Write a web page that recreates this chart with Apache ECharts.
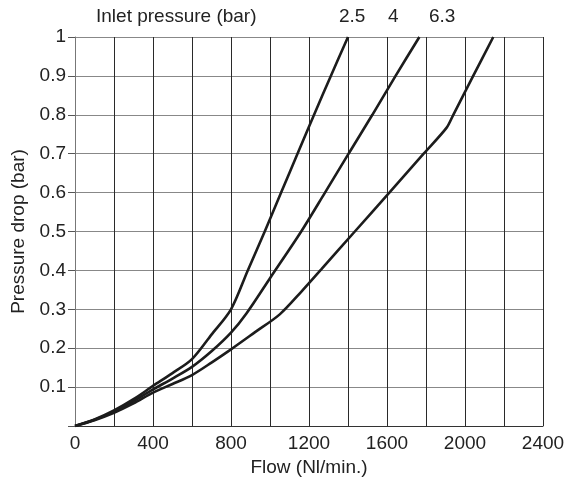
<!DOCTYPE html>
<html>
<head>
<meta charset="utf-8">
<script src="https://cdn.jsdelivr.net/npm/echarts@6/dist/echarts.min.js"></script>
<style>
html,body{margin:0;padding:0;background:#fff;}
#c{width:582px;height:479px;}
</style>
</head>
<body>
<div id="c"></div>
<script>
// Inlet pressure 2.5 bar
var flow25 = [0, 100, 200, 300, 400, 500, 600, 700, 800, 886, 973, 1057, 1141, 1226, 1312, 1400];
var drop25 = [0, 0.017, 0.04, 0.069, 0.103, 0.136, 0.172, 0.235, 0.30, 0.40, 0.50, 0.60, 0.70, 0.80, 0.90, 1.0];
// Inlet pressure 4 bar
var flow4 = [0, 100, 200, 300, 400, 500, 600, 700, 800, 880, 1000, 1160, 1282, 1403, 1525, 1644, 1766];
var drop4 = [0, 0.016, 0.037, 0.064, 0.094, 0.122, 0.152, 0.192, 0.24, 0.29, 0.38, 0.50, 0.60, 0.70, 0.80, 0.90, 1.0];
// Inlet pressure 6.3 bar
var flow63 = [0, 100, 200, 300, 400, 500, 600, 700, 800, 920, 1050, 1160, 1265, 1435, 1612, 1788, 1906, 1940, 2042, 2145];
var drop63 = [0, 0.015, 0.034, 0.058, 0.086, 0.108, 0.131, 0.163, 0.197, 0.24, 0.287, 0.345, 0.404, 0.50, 0.60, 0.70, 0.767, 0.80, 0.90, 1.0];
var seriesNames = ['2.5', '4', '6.3'];
var xTickLabels = [0, 400, 800, 1200, 1600, 2000, 2400];
var yTickLabels = ['0.1', '0.2', '0.3', '0.4', '0.5', '0.6', '0.7', '0.8', '0.9', '1'];

function pairs(xs, ys) { return xs.map(function (x, i) { return [x, ys[i]]; }); }

var FONT = '"Liberation Sans", Arial, sans-serif';
var FS = 19;
var chart = echarts.init(document.getElementById('c'));
var lineStyle = { color: '#1c1c1c', width: 2.6 };
function mk(name, xs, ys) {
  return {
    name: name, type: 'line', data: pairs(xs, ys), showSymbol: false, symbol: 'none',
    smooth: 0.3, lineStyle: lineStyle, silent: true, animation: false
  };
}
chart.setOption({
  animation: false,
  textStyle: { fontFamily: FONT },
  grid: { left: 75, right: 39, top: 37, bottom: 53, containLabel: false, outerBoundsMode: 'none' },
  xAxis: {
    type: 'value', min: 0, max: 2400, interval: 200,
    name: 'Flow (Nl/min.)', nameLocation: 'middle', nameGap: 28,
    nameTextStyle: { fontSize: FS, color: '#222', fontFamily: FONT },
    axisLine: { show: true, lineStyle: { color: '#333', width: 1 } },
    axisTick: { show: false },
    axisLabel: {
      fontSize: FS, color: '#222', margin: 8, fontFamily: FONT,
      formatter: function (v) { return xTickLabels.indexOf(v) >= 0 ? String(v) : ''; }
    },
    splitLine: { show: true, lineStyle: { color: '#2a2a2a', width: 1 } }
  },
  yAxis: {
    type: 'value', min: 0, max: 1, interval: 0.1,
    name: 'Pressure drop (bar)', nameLocation: 'middle', nameGap: 45, nameRotate: 90,
    nameTextStyle: { fontSize: FS, color: '#222', fontFamily: FONT },
    axisLine: { show: true, lineStyle: { color: '#777', width: 1 } },
    axisTick: { show: true, length: 7, lineStyle: { color: '#555' } },
    axisLabel: {
      fontSize: FS, color: '#222', margin: 9, fontFamily: FONT,
      formatter: function (v) {
        var s = String(Math.round(v * 10) / 10);
        return yTickLabels.indexOf(s) >= 0 ? s : '';
      }
    },
    splitLine: { show: true, lineStyle: { color: '#888', width: 1 } }
  },
  graphic: [
    { type: 'text', left: 96, top: 7, style: { text: 'Inlet pressure (bar)', font: FS + 'px ' + FONT, fill: '#222' } },
    { type: 'text', left: 339, top: 7, style: { text: seriesNames[0], font: FS + 'px ' + FONT, fill: '#222' } },
    { type: 'text', left: 388, top: 7, style: { text: seriesNames[1], font: FS + 'px ' + FONT, fill: '#222' } },
    { type: 'text', left: 429, top: 7, style: { text: seriesNames[2], font: FS + 'px ' + FONT, fill: '#222' } }
  ],
  series: [
    mk(seriesNames[0], flow25, drop25),
    mk(seriesNames[1], flow4, drop4),
    mk(seriesNames[2], flow63, drop63)
  ]
});
</script>
</body>
</html>
